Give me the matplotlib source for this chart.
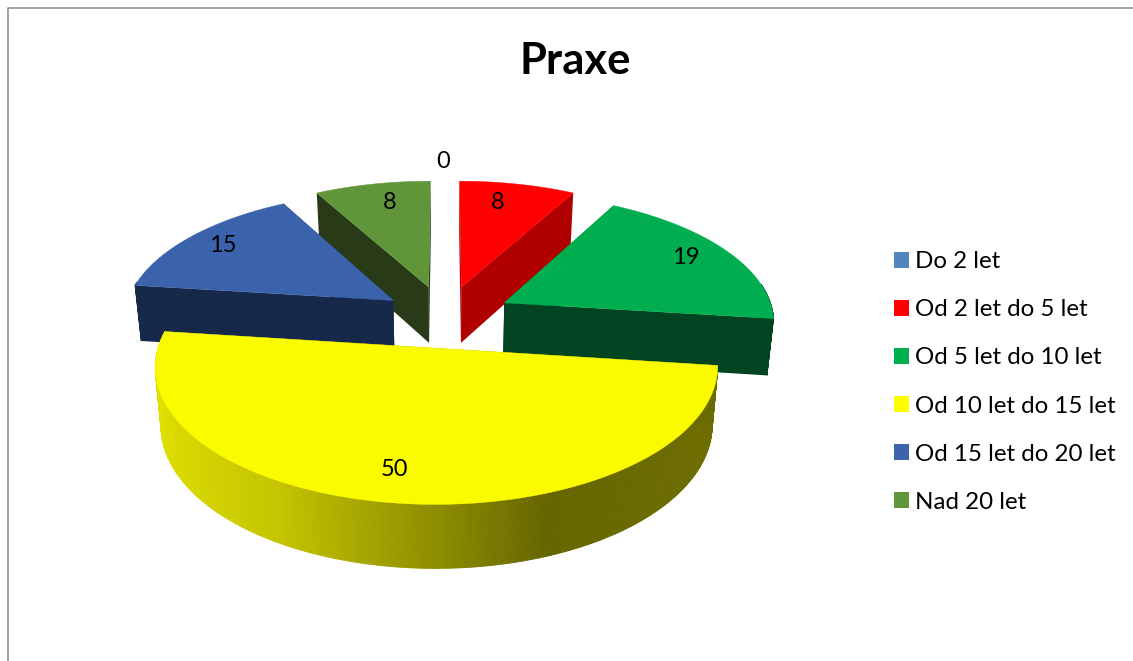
import numpy as np
import matplotlib
matplotlib.use("Agg")
import matplotlib.pyplot as plt
from matplotlib.patches import Patch, Polygon
from matplotlib.colors import to_rgb

plt.rcParams['font.family'] = ['Lato', 'DejaVu Sans']

title = "Praxe"
categories = ["Do 2 let", "Od 2 let do 5 let", "Od 5 let do 10 let",
              "Od 10 let do 15 let", "Od 15 let do 20 let", "Nad 20 let"]
values = [0, 8, 19, 50, 15, 8]

top_colors = ["#4f86bd", "#ff0000", "#00ae4f", "#fbfb00", "#3b63ab", "#609639"]
legend_colors = ["#4f86bd", "#ff0000", "#00b050", "#ffff00", "#3c64ac", "#60963a"]
side_colors = ["#2a4a6a", "#b00000", "#004421", "#6a6a00", "#17294a", "#293a18"]
explode = [0.25, 0.25, 0.25, 0.24, 0.235, 0.25]
label_r = [1.12, 0.85, 0.75, 0.76, 0.78, 0.65]
label_shift = [(-2, -8), (-12, 4), (14, -5), (-12, 8), (-11, -4), (-1, -15)]
draw_order = [5, 1, 4, 2, 3]

# rim shading for the big slice, by sin(angle)
shade_pos = [-1.0, -0.5, 0.35, 1.0]
shade_col = ["#e0e000", "#c4c400", "#666600", "#6e6e00"]

# fake 3d projection, pixels
cx, cy = 445, 317
A, B, H = 270, 127, 58
k, m = 0.13, 0.02


def project(X, Y, Z):
    X, Y, Z = np.asarray(X, float), np.asarray(Y, float), np.asarray(Z, float)
    s = 1 / (1 + k * Y) * (1 - m * (1 - Z))
    return np.column_stack([cx + A * X * s, cy - B * Y * s + H * (1 - Z) * s])


def shade(t):
    rgb = np.array([to_rgb(c) for c in shade_col])
    return [np.interp(np.sin(t), shade_pos, rgb[:, i]) for i in range(3)]


fig = plt.figure(figsize=(11.33, 6.61), dpi=100)
ax = fig.add_axes([0, 0, 1, 1])
ax.set_xlim(0, 1133)
ax.set_ylim(661, 0)
ax.axis("off")

ax.plot([8, 8, 1133], [661, 8, 8], color="#8a8a8a", lw=1.1)

edges = np.radians(np.concatenate([[0], np.cumsum(values)]) * 3.6)
offs = []
for i in range(len(values)):
    mid = (edges[i] + edges[i + 1]) / 2
    offs.append((explode[i] * np.sin(mid), explode[i] * np.cos(mid)))

for i in draw_order:
    t0, t1 = edges[i], edges[i + 1]
    ox, oy = offs[i]
    t = np.linspace(t0, t1, 361)
    X = ox + np.sin(t)
    Y = oy + np.cos(t)
    # rim strips
    for j in range(len(t) - 1):
        if np.cos(t[j]) > 0.15 and np.cos(t[j + 1]) > 0.15:
            continue
        xs = [X[j], X[j + 1], X[j + 1], X[j]]
        ys = [Y[j], Y[j + 1], Y[j + 1], Y[j]]
        zs = [1, 1, 0, 0]
        c = shade((t[j] + t[j + 1]) / 2) if i == 3 else side_colors[i]
        ax.add_patch(Polygon(project(xs, ys, zs), closed=True, fc=c, ec=c, lw=0.6))
    # radial faces
    for e in (t0, t1):
        xs = [ox, ox + np.sin(e), ox + np.sin(e), ox]
        ys = [oy, oy + np.cos(e), oy + np.cos(e), oy]
        zs = [1, 1, 0, 0]
        ax.add_patch(Polygon(project(xs, ys, zs), closed=True, fc=side_colors[i], lw=0))
    # top
    xs = np.concatenate([[ox], X])
    ys = np.concatenate([[oy], Y])
    ax.add_patch(Polygon(project(xs, ys, np.ones(len(xs))), closed=True,
                         fc=top_colors[i], ec=top_colors[i], lw=0.3))

for i, v in enumerate(values):
    mid = (edges[i] + edges[i + 1]) / 2
    ox, oy = offs[i]
    p = project([ox + label_r[i] * np.sin(mid)], [oy + label_r[i] * np.cos(mid)], [1])[0]
    ax.text(p[0] + label_shift[i][0], p[1] + label_shift[i][1], str(v), fontsize=17,
            ha="center", va="center", color="black")

ax.text(575, 61, title, fontsize=31.3, fontweight="bold", ha="center", va="center")

handles = [Patch(fc=c, ec="none") for c in legend_colors]
ax.legend(handles, categories, loc="center left", bbox_to_anchor=(894, 382),
          bbox_transform=ax.transData, frameon=False, fontsize=17.4,
          handlelength=0.62, handleheight=0.62, handletextpad=0.24,
          labelspacing=1.12, borderpad=0, borderaxespad=0)

fig.savefig("out.png", dpi=100)
